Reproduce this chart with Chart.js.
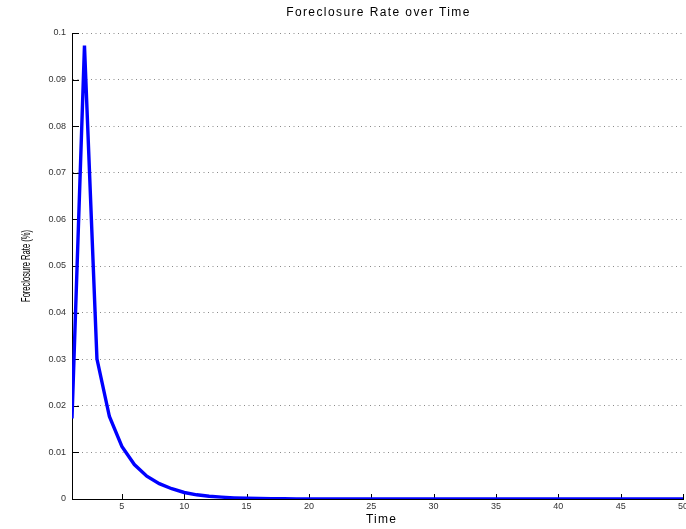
<!DOCTYPE html>
<html>
<head>
<meta charset="utf-8">
<script src="https://cdn.jsdelivr.net/npm/chart.js@4"></script>
<style>
  html, body { margin: 0; padding: 0; background: #fff; }
  #wrap { width: 686px; height: 529px; }
</style>
</head>
<body>
<div id="wrap"><canvas id="chart"></canvas></div>
<script>
// data
const time = [1, 2, 3, 4, 5, 6, 7, 8, 9, 10, 11, 12, 13, 14, 15, 16, 17, 18, 19, 20,
  21, 22, 23, 24, 25, 26, 27, 28, 29, 30, 31, 32, 33, 34, 35, 36, 37, 38, 39, 40,
  41, 42, 43, 44, 45, 46, 47, 48, 49, 50];
const rate = [0.0173, 0.0973, 0.0301, 0.0177, 0.0113, 0.0074, 0.0049, 0.0033, 0.0022, 0.0014,
  0.0009, 0.0006, 0.0004, 0.00025, 0.00015, 0.0001, 0.00006, 0.00004, 0.00002, 0.00001,
  0, 0, 0, 0, 0, 0, 0, 0, 0, 0,
  0, 0, 0, 0, 0, 0, 0, 0, 0, 0,
  0, 0, 0, 0, 0, 0, 0, 0, 0, 0];
const xTicks = [5, 10, 15, 20, 25, 30, 35, 40, 45, 50];
const yTicks = [0, 0.01, 0.02, 0.03, 0.04, 0.05, 0.06, 0.07, 0.08, 0.09, 0.1];

const chartTitle = "Foreclosure Rate over Time";
const xTitle = "Time";
const yTitle = "Foreclosure Rate (%)";

const FONT = '"Liberation Sans", Arial, sans-serif';

// matlab-style inward tick marks and the titles
const matlabAxes = {
  id: 'matlabAxes',
  beforeDatasetsDraw(chart) {
    const { ctx, chartArea: a, scales: { x, y } } = chart;
    ctx.save();
    ctx.strokeStyle = '#000';
    ctx.lineWidth = 1;
    ctx.beginPath();
    xTicks.forEach(v => {
      const px = Math.round(x.getPixelForValue(v)) + 0.5;
      ctx.moveTo(px, a.bottom);
      ctx.lineTo(px, a.bottom - 5);
    });
    yTicks.forEach(v => {
      const py = Math.round(y.getPixelForValue(v)) + 0.5;
      ctx.moveTo(a.left, py);
      ctx.lineTo(a.left + 7, py);
    });
    ctx.stroke();
    ctx.restore();
  },
  afterDraw(chart) {
    const { ctx, chartArea: a } = chart;
    const cx = (a.left + a.right) / 2;
    ctx.save();
    ctx.fillStyle = '#000';
    ctx.textAlign = 'center';
    ctx.textBaseline = 'middle';
    ctx.font = '12px ' + FONT;
    ctx.letterSpacing = '1.4px';
    ctx.fillText(chartTitle, cx + 1, 13);
    ctx.letterSpacing = '1.2px';
    ctx.fillText(xTitle, cx + 4, 520);
    ctx.letterSpacing = '0px';
    ctx.font = '13px ' + FONT;
    ctx.translate(26, (a.top + a.bottom) / 2);
    ctx.rotate(-Math.PI / 2);
    const w = ctx.measureText(yTitle).width;
    ctx.scale(72 / w, 1);
    ctx.fillText(yTitle, 0, 0);
    ctx.restore();
  }
};

new Chart(document.getElementById('chart'), {
  type: 'line',
  data: {
    datasets: [{
      data: time.map((t, i) => ({ x: t, y: rate[i] })),
      borderColor: '#0000ff',
      borderWidth: 3.4,
      pointRadius: 0,
      tension: 0,
      fill: false
    }]
  },
  options: {
    responsive: true,
    maintainAspectRatio: false,
    animation: false,
    layout: { padding: { top: 33, right: 3, left: 0, bottom: 0 } },
    plugins: {
      legend: { display: false },
      title: { display: false },
      tooltip: { enabled: false }
    },
    scales: {
      x: {
        type: 'linear',
        min: 1,
        max: 50,
        afterBuildTicks: s => { s.ticks = xTicks.map(v => ({ value: v })); },
        afterFit: s => { s.height = 30; s.paddingLeft = 0; s.paddingRight = 0; },
        grid: { display: false, drawTicks: false },
        border: { display: true, color: '#000', width: 1 },
        ticks: {
          font: { family: FONT, size: 9 },
          color: '#333',
          padding: 2,
          maxRotation: 0
        }
      },
      y: {
        min: 0,
        max: 0.1,
        afterBuildTicks: s => { s.ticks = yTicks.map(v => ({ value: v })); },
        afterFit: s => { s.width = 72; s.paddingTop = 0; s.paddingBottom = 0; },
        grid: { color: '#8a8a8a', lineWidth: 1, drawTicks: false },
        border: { display: true, color: '#000', width: 1, dash: [1, 3.5] },
        ticks: {
          font: { family: FONT, size: 9 },
          color: '#333',
          padding: 6,
          callback: v => String(+v.toFixed(2))
        }
      }
    }
  },
  plugins: [matlabAxes]
});
</script>
</body>
</html>
